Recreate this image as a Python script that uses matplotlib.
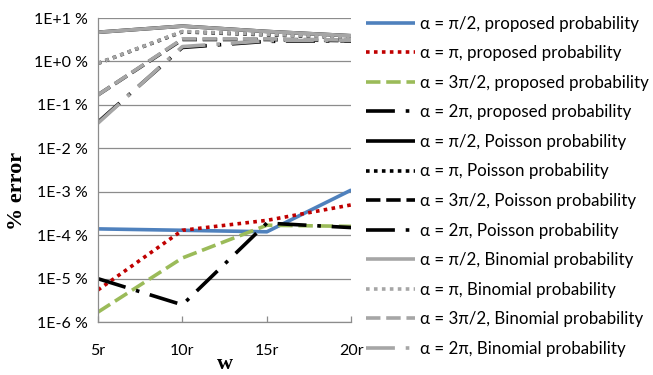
import math
import matplotlib.pyplot as plt
from matplotlib.ticker import FixedLocator, FuncFormatter

w_labels = ['5r', '10r', '15r', '20r']

# % error values
prop_half = [1.4e-4, 1.3e-4, 1.2e-4, 1.1e-3]
prop_pi = [5.5e-6, 1.3e-4, 2.2e-4, 5.0e-4]
prop_3half = [1.7e-6, 3.0e-5, 1.7e-4, 1.6e-4]
prop_2pi = [1.0e-5, 2.5e-6, 1.9e-4, 1.5e-4]

pois_half = [4.7, 6.5, 4.9, 3.9]
pois_pi = [0.9, 4.8, 4.1, 3.5]
pois_3half = [0.17, 3.2, 3.2, 3.0]
pois_2pi = [0.04, 2.1, 2.9, 3.0]

bin_half = [4.7, 6.5, 4.9, 3.9]
bin_pi = [0.9, 4.9, 4.2, 3.6]
bin_3half = [0.17, 3.3, 3.3, 3.1]
bin_2pi = [0.038, 2.2, 3.0, 3.1]

blue = '#4F81BD'
red = '#C00000'
green = '#9BBB59'
black = '#000000'
gray = '#A6A6A6'

solid = '-'
dotted = (0, (1, 1.2))
dashed = (0, (4, 1.6))
dashdot = (0, (8, 3, 1, 3))

series = [
    (prop_half, blue, solid, 'α = π/2, proposed probability'),
    (prop_pi, red, dotted, 'α = π, proposed probability'),
    (prop_3half, green, dashed, 'α = 3π/2, proposed probability'),
    (prop_2pi, black, dashdot, 'α = 2π, proposed probability'),
    (pois_half, black, solid, 'α = π/2, Poisson probability'),
    (pois_pi, black, dotted, 'α = π, Poisson probability'),
    (pois_3half, black, dashed, 'α = 3π/2, Poisson probability'),
    (pois_2pi, black, dashdot, 'α = 2π, Poisson probability'),
    (bin_half, gray, solid, 'α = π/2, Binomial probability'),
    (bin_pi, gray, dotted, 'α = π, Binomial probability'),
    (bin_3half, gray, dashed, 'α = 3π/2, Binomial probability'),
    (bin_2pi, gray, dashdot, 'α = 2π, Binomial probability'),
]

plt.rcParams['font.family'] = ['Lato', 'DejaVu Sans']

fig = plt.figure(figsize=(6.53, 3.75), dpi=100)
ax = fig.add_axes([0.150, 0.141, 0.388, 0.811])

x = range(len(w_labels))
for vals, color, ls, label in series:
    ax.plot(x, vals, color=color, linestyle=ls, linewidth=2.6,
            label=label, solid_capstyle='butt', dash_capstyle='butt')

ax.set_yscale('log')
ax.set_ylim(1e-6, 1e1)
ax.set_xlim(0, 3)
ax.yaxis.set_major_locator(FixedLocator([10.0 ** k for k in range(-6, 2)]))
ax.yaxis.set_minor_locator(FixedLocator([]))


def fmt(v, pos):
    k = int(round(math.log10(v)))
    return '1E{}{} %'.format('+' if k >= 0 else '-', abs(k))


ax.yaxis.set_major_formatter(FuncFormatter(fmt))
ax.set_xticks(list(x))
ax.set_xticklabels(w_labels)
ax.tick_params(axis='y', labelsize=11.5, length=0, pad=7)
ax.tick_params(axis='x', labelsize=11.5, direction='in', length=4,
               width=0.9, color='#8C8C8C', pad=16)
ax.grid(axis='y', color='#8C8C8C', linewidth=0.9)
ax.set_axisbelow(True)
for s in ['top', 'right']:
    ax.spines[s].set_visible(False)
for s in ['left', 'bottom']:
    ax.spines[s].set_color('#8C8C8C')
    ax.spines[s].set_linewidth(0.9)

ax.set_ylabel('% error', fontsize=16, fontweight='bold',
              family='Liberation Serif')
ax.yaxis.set_label_coords(-0.28, 0.43)
ax.set_xlabel('w', fontsize=16, fontweight='bold',
              family='Liberation Serif', labelpad=-3)

ax.legend(loc='upper left', bbox_to_anchor=(1.03, 1.03), frameon=False,
          fontsize=12.2, handlelength=2.9, handletextpad=0.3,
          labelspacing=0.8, borderaxespad=0)

fig.savefig('out.png', dpi=100)
